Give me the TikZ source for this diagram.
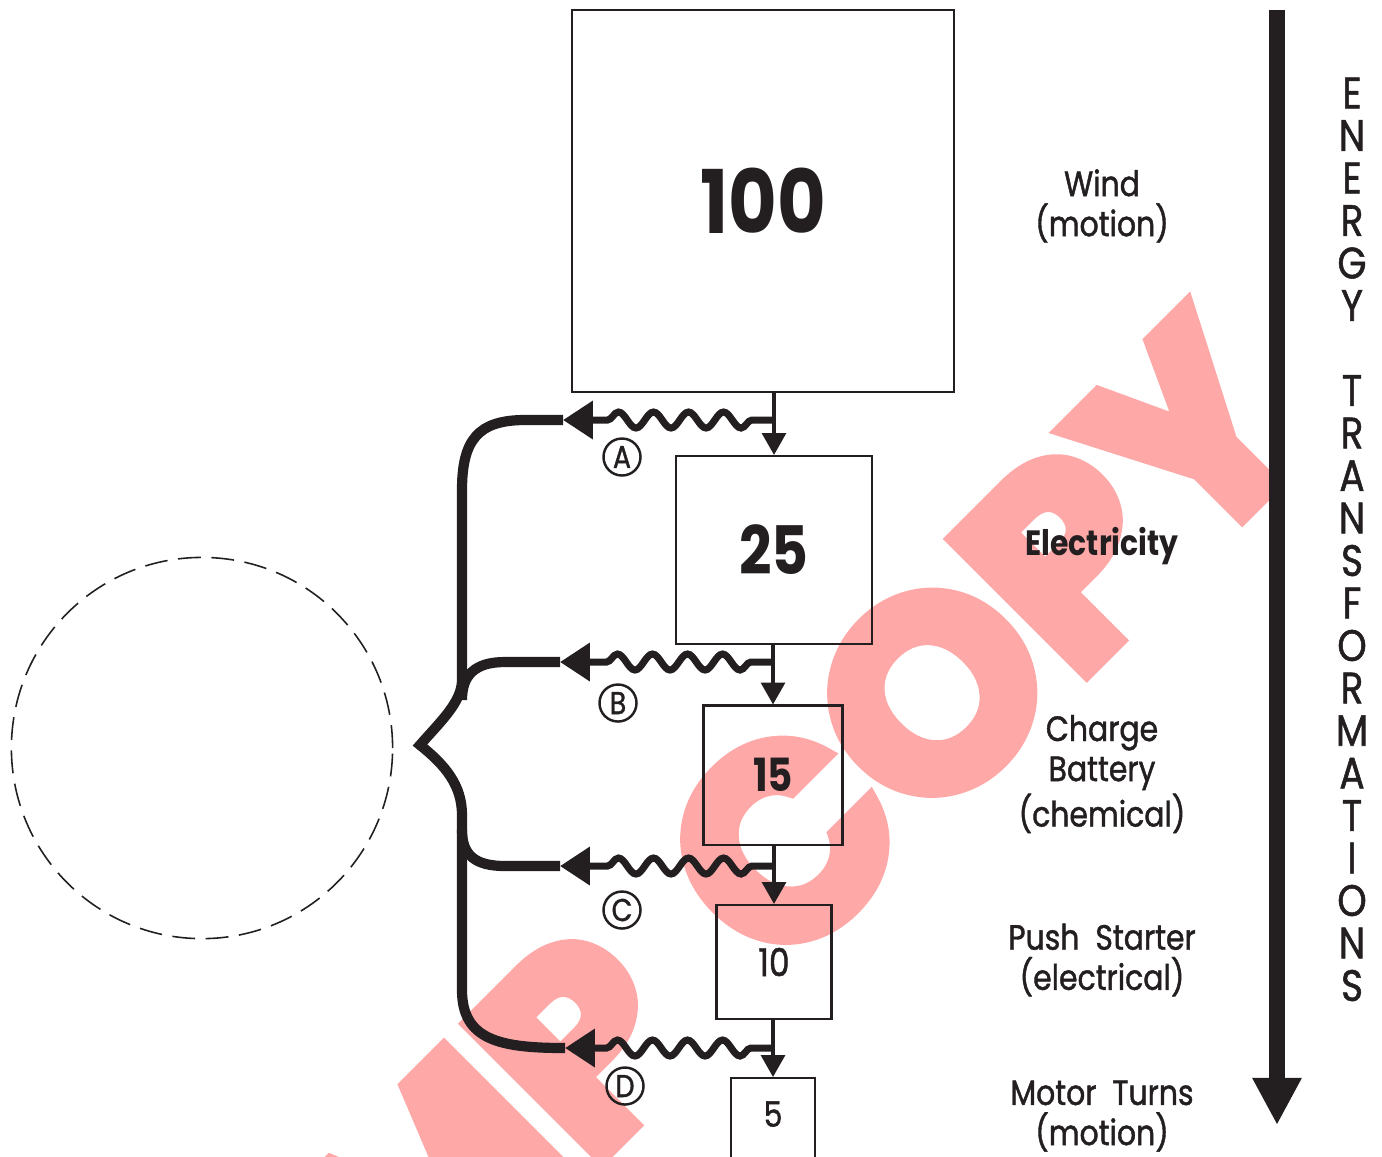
\documentclass[tikz,border=0pt]{standalone}
\usepackage{fontspec}
\setmainfont{Poppins}[FakeStretch=0.85,UprightFeatures={FakeBold=1.2}]
\newfontfamily\stampfont{Poppins}[FakeBold=5]
\usepackage{tikz}
\usetikzlibrary{arrows.meta,decorations.pathmorphing}
\definecolor{ink}{HTML}{231F20}
\definecolor{stamp}{HTML}{FFA8A8}

\begin{document}
\begin{tikzpicture}[x=0.01cm,y=-0.01cm,
  box/.style={draw=ink,line width=0.6pt,inner sep=0pt,text=ink},
  num/.style={font=\bfseries\fontsize{#1}{#1}\selectfont},
  numlight/.style={font=\fontsize{#1}{#1}\selectfont},
  note/.style={text=ink,font=\fontsize{10}{11.4}\selectfont,align=center},
  tag/.style={circle,draw=ink,line width=0.7pt,inner sep=0pt,minimum size=0.37cm,text=ink,font=\fontsize{9}{9}\selectfont},
  flowarr/.style={-{Triangle[length=6.2pt,width=6.8pt]},color=ink,line width=0.9pt},
  heat/.style={-{Triangle[length=8.5pt,width=10.5pt]},color=ink,line width=2pt,decorate,
    decoration={snake,segment length=0.35cm,amplitude=0.08cm,pre length=0.22cm,post length=0.31cm}},
  brace/.style={color=ink,line width=2.9pt},
  wm/.style={text=stamp,rotate=45,inner sep=0pt,font=\stampfont\bfseries\fontsize{77}{77}\selectfont}]
  \useasboundingbox (0,0) rectangle (1382,1156);
  % watermark, under everything
  \node[wm,anchor=base west] (wmcopy) at (778,982) {COPY};
  \node[wm,anchor=base east] (wmmp) at (710,1050) {MP};
  % energy stages
  \node[box,minimum width=3.82cm,minimum height=3.81cm,num=25] (b100) at (763,201) {100};
  \node[box,minimum width=1.96cm,minimum height=1.88cm,num=19] (b25) at (774,550) {25};
  \node[box,minimum width=1.39cm,minimum height=1.39cm,num=13] (b15) at (773,775) {15};
  \node[box,minimum width=1.15cm,minimum height=1.14cm,numlight=11] (b10) at (774,962) {10};
  \node[box,minimum width=0.84cm,minimum height=0.84cm,text depth=0.12cm,numlight=10] (b5) at (773,1120) {5};
  \draw[flowarr] (b25.north |- b100.south) -- (b25.north);
  \draw[flowarr] (b15.north |- b25.south) -- (b15.north);
  \draw[flowarr] (b10.north |- b15.south) -- (b10.north);
  \draw[flowarr] (b5.north |- b10.south) -- (b5.north);
  % losses
  \coordinate (tipA) at (563,420);
  \coordinate (tipB) at (560,662);
  \coordinate (tipC) at (560,866);
  \coordinate (tipD) at (565,1048);
  \coordinate (cusp) at (420,745);
  \draw[heat] (b25.north |- tipA) -- (tipA);
  \draw[heat] (b15.north |- tipB) -- (tipB);
  \draw[heat] (b10.north |- tipC) -- (tipC);
  \draw[heat] (b5.north |- tipD) -- (tipD);
  \node[tag] (tagA) at (622,457) {A};
  \node[tag] (tagB) at (618,703) {B};
  \node[tag] (tagC) at (622,910) {C};
  \node[tag] (tagD) at (625,1086) {D};
  \draw[brace] (tipA) -- (525,420) .. controls (478,420) and (462,440) .. (462,490) -- (462,680)
    .. controls (462,702) and (440,722) .. (cusp) .. controls (445,765) and (462,785) .. (462,815)
    -- (462,990) .. controls (462,1040) and (500,1048) .. (tipD);
  \draw[brace] (tipB) -- (505,662) .. controls (475,662) and (462,675) .. (462,700);
  \draw[brace] (tipC) -- (505,866) .. controls (475,866) and (462,855) .. (462,830);
  \node[circle,draw=ink,dash pattern=on 6.5pt off 3pt,line width=0.45pt,minimum size=3.81cm] (sys) at (202,748) {};
  % forms of energy
  \node[note] (wind) at (1102,206) {Wind\\(motion)};
  \node[note,font=\bfseries\fontsize{10}{11.4}\selectfont] (elec) at (1102,546) {Electricity};
  \node[note] (batt) at (1102,774) {Charge\\Battery\\(chemical)};
  \node[note] (push) at (1102,960) {Push~ Starter\\(electrical)};
  \node[note] (motor) at (1102,1116) {Motor~ Turns\\(motion)};
  % direction of the transformations
  \coordinate (flowtop) at (1277,10);
  \coordinate (flowtip) at (1277,1125);
  \draw[-{Triangle[length=13.4pt,width=13.1pt]},color=ink,line width=4.5pt] (flowtop) -- (flowtip);
  \foreach \ch [count=\i] in {E,N,E,R,G,Y,{},T,R,A,N,S,F,O,R,M,A,T,I,O,N,S}
    \node[text=ink,font=\fontsize{12.5}{12.5}\selectfont] (ltr\i) at (1352,{93+(\i-1)*42.5}) {\ch};
\end{tikzpicture}
\end{document}
